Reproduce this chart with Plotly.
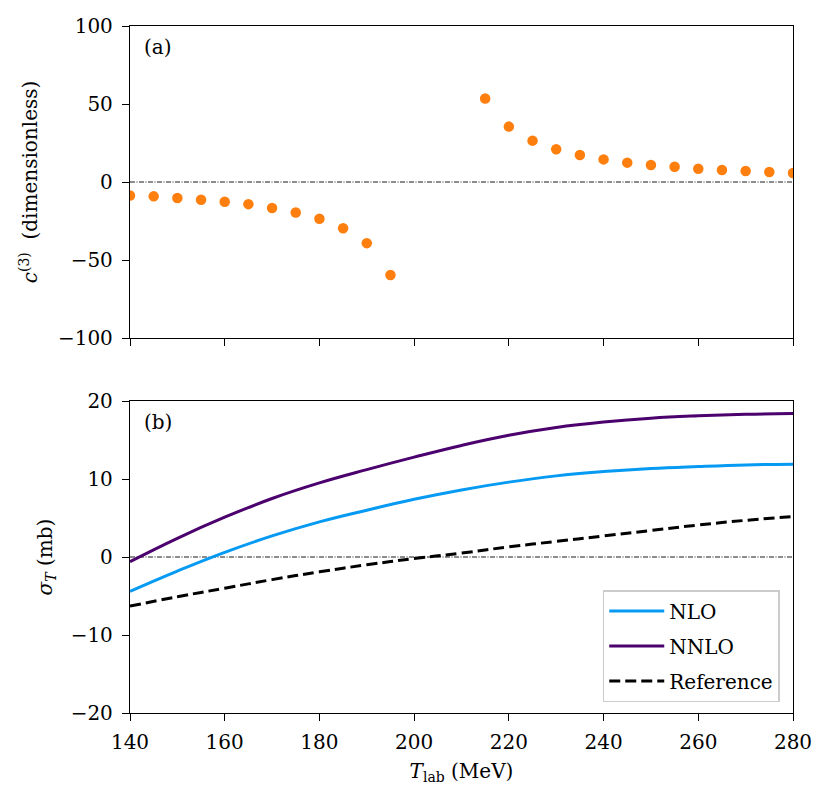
import plotly.graph_objects as go

# ---------------- data ----------------
t_lower = [140, 145, 150, 155, 160, 165, 170, 175, 180, 185, 190, 195]
c3_lower = [-8.6, -9.2, -10.3, -11.4, -12.7, -14.2, -16.7, -19.5, -23.6, -29.6, -39.2, -59.6]
t_upper = [215, 220, 225, 230, 235, 240, 245, 250, 255, 260, 265, 270, 275, 280]
c3_upper = [53.5, 35.5, 26.5, 21.0, 17.3, 14.5, 12.4, 10.9, 9.8, 8.5, 7.7, 7.0, 6.4, 5.8]

t_curve = [140, 150, 160, 170, 180, 190, 200, 210, 220, 230, 240, 250, 260, 270, 280]
sigma_nlo = [-4.4, -1.8, 0.6, 2.7, 4.5, 6.0, 7.4, 8.6, 9.6, 10.4, 10.95, 11.35, 11.6, 11.8, 11.9]
sigma_nnlo = [-0.6, 2.4, 5.1, 7.5, 9.5, 11.2, 12.8, 14.3, 15.6, 16.6, 17.3, 17.8, 18.1, 18.3, 18.4]
sigma_ref = [-6.3, -5.1, -4.0, -2.9, -1.9, -1.0, -0.2, 0.5, 1.3, 2.0, 2.7, 3.4, 4.1, 4.7, 5.2]

x_ticks = [140, 160, 180, 200, 220, 240, 260, 280]
x_ticktext = ["140", "160", "180", "200", "220", "240", "260", "280"]
top_ticks = [-100, -50, 0, 50, 100]
top_ticktext = ["\u2212100", "\u221250", "0", "50", "100"]
bot_ticks = [-20, -10, 0, 10, 20]
bot_ticktext = ["\u221220", "\u221210", "0", "10", "20"]

FONT = "DejaVu Serif"
FS = 20

fig = go.Figure()

orange = "#ff7f0e"
fig.add_trace(go.Scatter(x=t_lower, y=c3_lower, mode="markers",
                         marker=dict(color=orange, size=10.5), showlegend=False,
                         xaxis="x", yaxis="y"))
fig.add_trace(go.Scatter(x=t_upper, y=c3_upper, mode="markers",
                         marker=dict(color=orange, size=10.5), showlegend=False,
                         xaxis="x", yaxis="y"))

fig.add_trace(go.Scatter(x=t_curve, y=sigma_nlo, mode="lines", name="NLO", legendgroup="g1",
                         line=dict(color="#069af3", width=3, shape="spline", smoothing=1.2),
                         xaxis="x2", yaxis="y2"))
fig.add_trace(go.Scatter(x=t_curve, y=sigma_nnlo, mode="lines", name="NNLO", legendgroup="g2",
                         line=dict(color="#4b006e", width=3, shape="spline", smoothing=1.2),
                         xaxis="x2", yaxis="y2"))
fig.add_trace(go.Scatter(x=t_curve, y=sigma_ref, mode="lines", name="Reference", legendgroup="g3",
                         line=dict(color="black", width=3, shape="spline", smoothing=1.2,
                                   dash="11px,5px"),
                         xaxis="x2", yaxis="y2"))

# zero lines
for xr, yr in [("x domain", "y"), ("x2 domain", "y2")]:
    fig.add_shape(type="line", xref=xr, yref=yr, x0=0, x1=1, y0=0, y1=0,
                  line=dict(color="black", width=0.9, dash="5px,1.5px,1px,1.5px"), layer="below")

axis_common = dict(showline=True, linecolor="black", linewidth=1.3, mirror=True,
                   ticks="outside", ticklen=7, tickwidth=1.3, tickcolor="black",
                   showgrid=False, zeroline=False, automargin=False,
                   tickfont=dict(family=FONT, size=FS, color="black"))

top_frac = (713 - 338) / 687
bot_frac = (713 - 401) / 687

fig.update_layout(
    width=822, height=800,
    margin=dict(l=122, r=37, t=18, b=95),
    paper_bgcolor="white", plot_bgcolor="white",
    font=dict(family=FONT, size=FS, color="black"),
    xaxis=dict(domain=[0, 1], anchor="y", range=[140, 280], tickvals=x_ticks,
               ticktext=x_ticktext, showticklabels=False, **axis_common),
    yaxis=dict(domain=[top_frac, 1], anchor="x", range=[-100, 100], tickvals=top_ticks,
               ticktext=top_ticktext, ticklabelstandoff=5,
               title=dict(text="<i>c</i><sup>(3)</sup>  (dimensionless)",
                          font=dict(family=FONT, size=FS), standoff=14),
               **axis_common),
    xaxis2=dict(domain=[0, 1], anchor="y2", range=[140, 280], tickvals=x_ticks,
                ticktext=x_ticktext, ticklabelstandoff=4,
                title=dict(text="<i>T</i><sub>lab</sub> (MeV)", font=dict(family=FONT, size=FS),
                           standoff=10),
                **axis_common),
    yaxis2=dict(domain=[0, bot_frac], anchor="x2", range=[-20, 20], tickvals=bot_ticks,
                ticktext=bot_ticktext, ticklabelstandoff=5,
                title=dict(text="<i>σ</i><sub><i>T</i></sub> (mb)",
                           font=dict(family=FONT, size=FS), standoff=12),
                **axis_common),
    legend=dict(x=0.98, y=0.016, xanchor="right", yanchor="bottom",
                bgcolor="rgba(255,255,255,0.85)", bordercolor="#cccccc", borderwidth=1.5,
                font=dict(family=FONT, size=FS), itemwidth=55, tracegroupgap=6),
    annotations=[
        dict(text="(a)", xref="paper", yref="paper", x=0.018, y=0.97, xanchor="left",
             yanchor="middle", showarrow=False, font=dict(family=FONT, size=FS)),
        dict(text="(b)", xref="paper", yref="paper", x=0.018, y=bot_frac - 0.03, xanchor="left",
             yanchor="middle", showarrow=False, font=dict(family=FONT, size=FS)),
    ],
)

fig.write_html("out.html")
